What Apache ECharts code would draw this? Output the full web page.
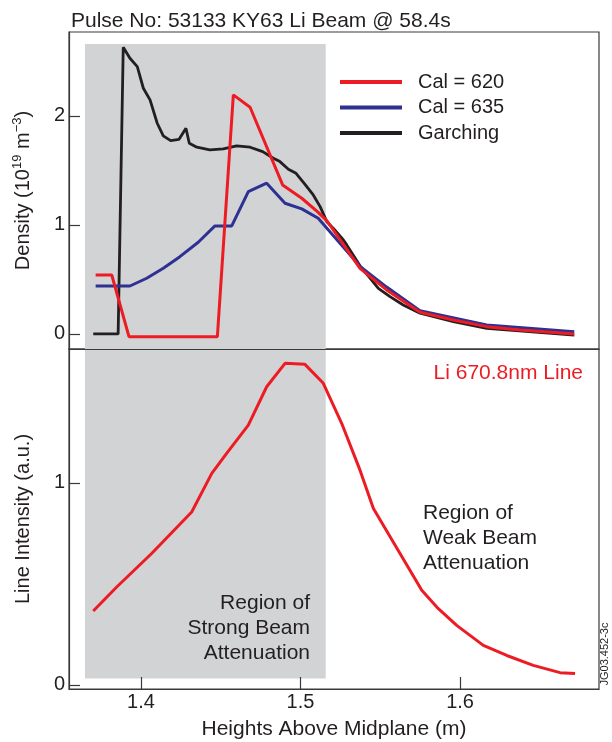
<!DOCTYPE html>
<html>
<head>
<meta charset="utf-8">
<script src="https://cdn.jsdelivr.net/npm/echarts@6/dist/echarts.min.js"></script>
<style>
  html, body { margin: 0; padding: 0; background: #fff; }
  #chart { width: 612px; height: 742px; }
</style>
</head>
<body>
<div id="chart"></div>
<script>
  // tick values
  const xTicks = [1.4, 1.5, 1.6]
  const densityTicks = [0, 1, 2]
  const intensityTicks = [0, 1]

  // shaded "strong attenuation" region (m), plus its top/bottom in each panel's units
  const strongRegion = [1.3649, 1.5158]
  const strongTopDensity = 2.66
  const strongBottomIntensity = 0.031

  // density profiles [height (m), density (1e19 m^-3)]
  const cal620 = [
    [1.3716, 0.541], [1.3817, 0.541], [1.3925, -0.025], [1.4479, -0.025],
    [1.4579, 2.193], [1.4684, 2.080], [1.4888, 1.367], [1.5008, 1.245],
    [1.5106, 1.122], [1.5165, 1.039], [1.5373, 0.602], [1.5436, 0.526],
    [1.5540, 0.404], [1.5749, 0.199], [1.5958, 0.128], [1.6167, 0.067],
    [1.6376, 0.037], [1.6716, 0.0]
  ]
  const cal635 = [
    [1.3716, 0.44], [1.3931, 0.44], [1.4036, 0.511], [1.4140, 0.603],
    [1.4244, 0.709], [1.4359, 0.841], [1.4464, 0.991], [1.4569, 0.991],
    [1.4673, 1.306], [1.4788, 1.383], [1.4903, 1.199], [1.5008, 1.147],
    [1.5111, 1.061], [1.5373, 0.62], [1.5540, 0.43], [1.5749, 0.214],
    [1.6167, 0.083], [1.6716, 0.021]
  ]
  const garching = [
    [1.3701, 0], [1.3857, 0], [1.3889, 2.63], [1.3931, 2.529], [1.3977, 2.452],
    [1.4015, 2.254], [1.4057, 2.147], [1.4102, 1.933], [1.4140, 1.817],
    [1.4186, 1.774], [1.4239, 1.786], [1.4282, 1.887], [1.4303, 1.749],
    [1.4350, 1.713], [1.4432, 1.688], [1.4516, 1.697], [1.4600, 1.725],
    [1.4684, 1.713], [1.4763, 1.673], [1.4830, 1.612], [1.4871, 1.581],
    [1.4924, 1.511], [1.4972, 1.474], [1.5022, 1.383], [1.5080, 1.275],
    [1.5123, 1.168], [1.5165, 1.030], [1.5205, 0.970], [1.5269, 0.862],
    [1.5290, 0.817], [1.5373, 0.625], [1.5488, 0.419], [1.5561, 0.342],
    [1.5644, 0.266], [1.5749, 0.190], [1.5958, 0.113], [1.6167, 0.052],
    [1.6716, -0.01]
  ]

  // Li 670.8nm line intensity [height (m), a.u.]
  const liLine = [
    [1.3701, 0.365], [1.3848, 0.484], [1.4067, 0.650], [1.4318, 0.856],
    [1.4444, 1.047], [1.4537, 1.146], [1.4673, 1.286], [1.4788, 1.476],
    [1.4903, 1.592], [1.5028, 1.587], [1.5143, 1.493], [1.5258, 1.295],
    [1.5373, 1.063], [1.5457, 0.873], [1.5760, 0.468], [1.5864, 0.377],
    [1.5979, 0.294], [1.6146, 0.195], [1.6293, 0.145], [1.6459, 0.096],
    [1.6627, 0.060], [1.6721, 0.056]
  ]

  const FONT = '"Liberation Sans", Arial, Helvetica, sans-serif'
  const INK = '#231f20'
  const FRAME = '#3a3a3a'
  const GRAY = '#d1d3d4'
  const RED = '#ed1c24'
  const BLUE = '#2e3192'
  const BLACK = '#231f20'

  const xMin = 1.3549, xMax = 1.6871
  const densityMin = -0.138, densityMax = 2.77
  const intensityMin = -0.021, intensityMax = 1.663

  const myChart = echarts.init(document.getElementById('chart'), null, { renderer: 'canvas' })

  function yAxisOf(gridIndex, min, max, ticks, name, rich) {
    return {
      type: 'value',
      gridIndex,
      min,
      max,
      splitLine: { show: false },
      axisLine: { show: true, onZero: false, lineStyle: { color: FRAME, width: 1.2 } },
      axisTick: {
        show: true, inside: true, length: 11,
        customValues: ticks,
        lineStyle: { color: FRAME, width: 1.2 }
      },
      axisLabel: {
        customValues: ticks,
        margin: 4,
        fontSize: 20,
        fontFamily: FONT,
        color: INK
      },
      name,
      nameLocation: 'middle',
      nameGap: 34,
      nameTextStyle: { fontSize: 20, fontFamily: FONT, color: INK, lineHeight: 24, rich }
    }
  }

  const option = {
    animation: false,
    backgroundColor: '#fff',
    title: {
      text: 'Pulse No: 53133 KY63 Li Beam @ 58.4s',
      left: 66,
      top: 6,
      textStyle: { fontSize: 21, fontWeight: 'normal', fontFamily: FONT, color: INK }
    },
    legend: {
      data: ['Cal = 620', 'Cal = 635', 'Garching'],
      orient: 'vertical',
      left: 335,
      top: 66,
      icon: 'rect',
      itemWidth: 62,
      itemHeight: 4,
      itemGap: 3.5,
      textStyle: {
        fontSize: 20, fontFamily: FONT, color: INK,
        lineHeight: 22, padding: [0, 0, 0, 11]
      }
    },
    grid: [
      { left: 69, top: 32, width: 530, height: 317, show: true, borderColor: FRAME, borderWidth: 1.2, backgroundColor: 'transparent' },
      { left: 69, top: 349, width: 530, height: 340, show: true, borderColor: FRAME, borderWidth: 1.2, backgroundColor: 'transparent' }
    ],
    xAxis: [
      {
        type: 'value', gridIndex: 0, min: xMin, max: xMax, z: 10,
        splitLine: { show: false },
        axisLine: { show: true, onZero: false, lineStyle: { color: FRAME, width: 1.2 } },
        axisTick: { show: false },
        axisLabel: { show: false }
      },
      {
        type: 'value', gridIndex: 1, min: xMin, max: xMax, z: 10,
        splitLine: { show: false },
        axisLine: { show: true, onZero: false, lineStyle: { color: FRAME, width: 1.2 } },
        axisTick: {
          show: true, inside: true, length: 12,
          customValues: xTicks,
          lineStyle: { color: FRAME, width: 1.2 }
        },
        axisLabel: {
          customValues: xTicks,
          formatter: v => v.toFixed(1),
          margin: 3,
          fontSize: 20,
          fontFamily: FONT,
          color: INK
        },
        name: 'Heights Above Midplane (m)',
        nameLocation: 'middle',
        nameGap: 30,
        nameTextStyle: { fontSize: 21, fontFamily: FONT, color: INK }
      }
    ],
    yAxis: [
      yAxisOf(0, densityMin, densityMax, densityTicks, 'Density (10{sup|19} m{sup|\u22123})', {
        sup: { fontSize: 13, fontFamily: FONT, color: INK, lineHeight: 13, verticalAlign: 'top' }
      }),
      yAxisOf(1, intensityMin, intensityMax, intensityTicks, 'Line Intensity (a.u.)')
    ],
    series: [
      {
        type: 'line', xAxisIndex: 0, yAxisIndex: 0, data: [], z: 1, silent: true,
        markArea: {
          silent: true,
          itemStyle: { color: GRAY },
          data: [[
            { coord: [strongRegion[0], strongTopDensity] },
            { coord: [strongRegion[1], densityMin] }
          ]]
        }
      },
      {
        type: 'line', xAxisIndex: 1, yAxisIndex: 1, data: [], z: 1, silent: true,
        markArea: {
          silent: true,
          itemStyle: { color: GRAY },
          data: [[
            { coord: [strongRegion[0], intensityMax] },
            { coord: [strongRegion[1], strongBottomIntensity] }
          ]]
        }
      },
      {
        name: 'Garching', type: 'line', xAxisIndex: 0, yAxisIndex: 0,
        data: garching, showSymbol: false, symbol: 'none', color: BLACK,
        lineStyle: { color: BLACK, width: 2.8 }
      },
      {
        name: 'Cal = 635', type: 'line', xAxisIndex: 0, yAxisIndex: 0,
        data: cal635, showSymbol: false, symbol: 'none', color: BLUE,
        lineStyle: { color: BLUE, width: 3 }
      },
      {
        name: 'Cal = 620', type: 'line', xAxisIndex: 0, yAxisIndex: 0,
        data: cal620, showSymbol: false, symbol: 'none', color: RED,
        lineStyle: { color: RED, width: 3 }
      },
      {
        name: 'Li 670.8nm Line', type: 'line', xAxisIndex: 1, yAxisIndex: 1,
        data: liLine, showSymbol: false, symbol: 'none', color: RED,
        lineStyle: { color: RED, width: 3 }
      }
    ],
    graphic: [
      {
        type: 'text', z: 20,
        style: {
          text: 'Li 670.8nm Line', x: 583, y: 373,
          textAlign: 'right', textVerticalAlign: 'middle',
          font: '21px ' + FONT, fill: RED
        }
      },
      {
        type: 'text', z: 20,
        style: {
          text: 'Region of\nStrong Beam\nAttenuation', x: 310, y: 628,
          textAlign: 'right', textVerticalAlign: 'middle', lineHeight: 25,
          font: '21px ' + FONT, fill: INK
        }
      },
      {
        type: 'text', z: 20,
        style: {
          text: 'Region of\nWeak Beam\nAttenuation', x: 423, y: 538,
          textAlign: 'left', textVerticalAlign: 'middle', lineHeight: 25,
          font: '21px ' + FONT, fill: INK
        }
      },
      {
        type: 'text', z: 20, x: 605, y: 654, rotation: Math.PI / 2,
        style: {
          text: 'JG03.452-3c', x: 0, y: 0,
          textAlign: 'center', textVerticalAlign: 'middle',
          font: '11px ' + FONT, fill: INK
        }
      }
    ]
  }

  myChart.setOption(option)
</script>
</body>
</html>
